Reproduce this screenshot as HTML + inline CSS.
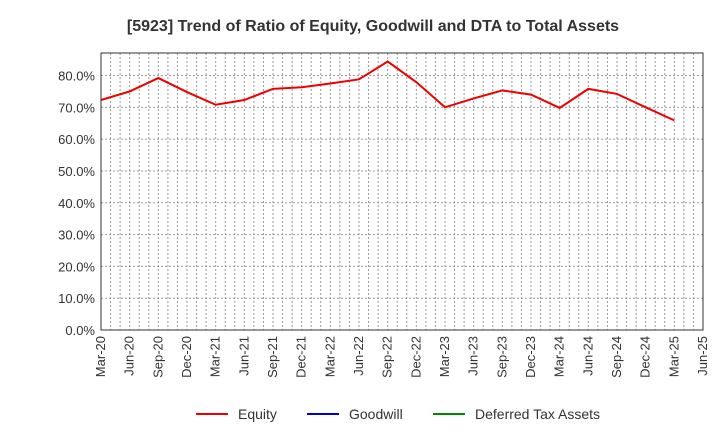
<!DOCTYPE html>
<html><head><meta charset="utf-8"><style>
body{margin:0;background:#fff;}
svg text{font-family:"Liberation Sans",Arial,sans-serif;}
</style></head><body>
<svg id="chart" width="720" height="440" xmlns="http://www.w3.org/2000/svg">
<text x="373" y="31" text-anchor="middle" font-size="16" font-weight="bold" fill="#333">[5923]  Trend of Ratio of Equity, Goodwill and DTA to Total Assets</text>
<g id="grid"></g>
<g id="yaxis"></g>
<g id="xaxis"></g>
<g id="series"></g>
<rect x="101" y="53" width="602" height="277" fill="none" stroke="#333" stroke-width="1"/>
<g>
 <g><line x1="196" y1="414" x2="228" y2="414" stroke="#e00" stroke-width="2"/><text x="238" y="419" font-size="14" fill="#333">Equity</text></g>
 <g><line x1="307" y1="414" x2="339" y2="414" stroke="#00c" stroke-width="2"/><text x="349" y="419" font-size="14" fill="#333">Goodwill</text></g>
 <g><line x1="433" y1="414" x2="465" y2="414" stroke="#080" stroke-width="2"/><text x="475" y="419" font-size="14" fill="#333">Deferred Tax Assets</text></g>
</g>
</svg>
<script>
const categories=["Mar-20","Jun-20","Sep-20","Dec-20","Mar-21","Jun-21","Sep-21","Dec-21","Mar-22","Jun-22","Sep-22","Dec-22","Mar-23","Jun-23","Sep-23","Dec-23","Mar-24","Jun-24","Sep-24","Dec-24","Mar-25","Jun-25"];
const equity=[72.3,75.0,79.2,74.8,70.8,72.3,75.8,76.3,77.5,78.8,84.4,77.9,70.0,72.8,75.3,74.0,69.8,75.8,74.2,70.0,65.9];
const yTicks=[0,10,20,30,40,50,60,70,80];
const NS="http://www.w3.org/2000/svg";
const L=101,R=703,T=53,B=330;
const step=(R-L)/(categories.length-1);
function xs(i){return L+i*step;}
function ys(v){return B-v*(B-75.5)/80;}
function mk(tag,attrs,parent){const e=document.createElementNS(NS,tag);for(const k in attrs)e.setAttribute(k,attrs[k]);parent.appendChild(e);return e;}
const grid=document.getElementById('grid'),ya=document.getElementById('yaxis'),xa=document.getElementById('xaxis'),se=document.getElementById('series');
for(let m=1;m<(categories.length-1)*3;m++){const x=L+m*step/3;
 const g=mk('line',{x1:x,y1:T,x2:x,y2:B,stroke:'#999','stroke-width':1,'stroke-dasharray':'2,2'},grid);
 }
yTicks.forEach(v=>{const y=ys(v);
 if(v>0){const g=mk('line',{x1:L,y1:y,x2:R,y2:y,stroke:'#999','stroke-width':1,'stroke-dasharray':'2,2'},grid);
 }
 const t=mk('text',{x:L-6,y:y+5,'text-anchor':'end','font-size':13,fill:'#333'},ya);t.textContent=v.toFixed(1)+'%';
 });
categories.forEach((c,i)=>{const x=xs(i);
 const t=mk('text',{x:x+4,y:B+6,'text-anchor':'end','font-size':13,fill:'#333',transform:`rotate(-90 ${x+4} ${B+6})`},xa);t.textContent=c;
 });
const p=mk('polyline',{points:equity.map((v,i)=>xs(i)+','+ys(v)).join(' '),fill:'none',stroke:'#e00','stroke-width':2},se);

</script>
</body></html>
